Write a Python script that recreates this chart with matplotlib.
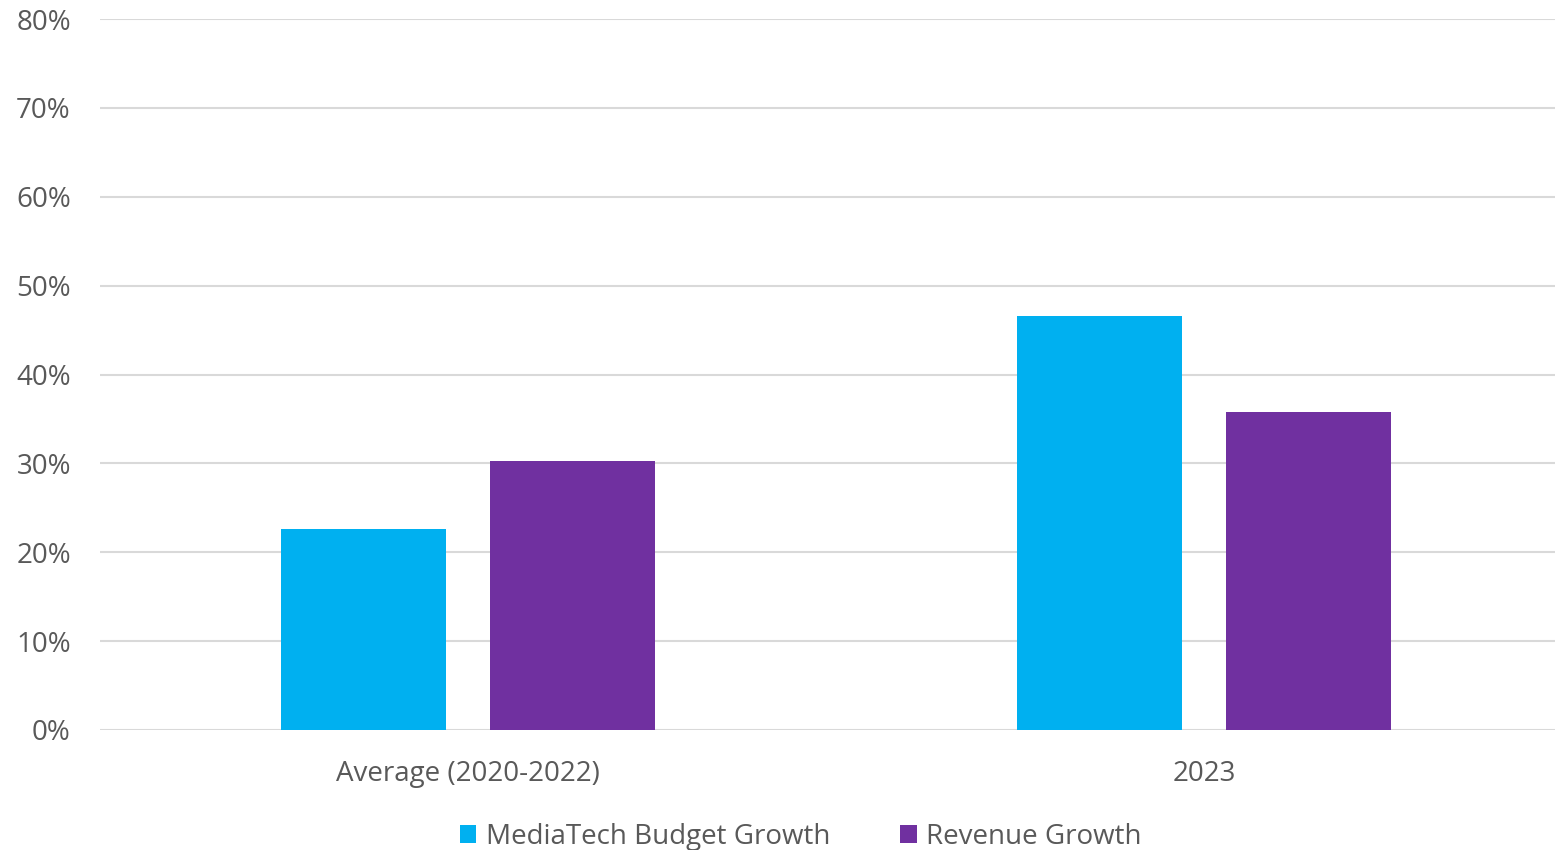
import matplotlib
matplotlib.use("Agg")
import matplotlib.pyplot as plt
import numpy as np
from matplotlib.ticker import PercentFormatter

categories = ["Average (2020-2022)", "2023"]
budget_growth = [22.6, 46.6]
revenue_growth = [30.3, 35.8]
series_names = ["MediaTech Budget Growth", "Revenue Growth"]

BLUE = "#00b0f0"
PURPLE = "#7030a0"
TEXT = "#595959"
GRID = "#d9d9d9"

plt.rcParams["font.family"] = ["Open Sans", "DejaVu Sans"]

fig = plt.figure(figsize=(15.55, 8.5), dpi=100)
# plot area runs a little past the right edge of the canvas
ax = fig.add_axes([0.0643, 0.1412, 0.9466, 0.8364])

x = np.arange(len(categories))
w = 0.224
off = 0.142
ax.bar(x - off, budget_growth, w, color=BLUE, label=series_names[0], zorder=3)
ax.bar(x + off, revenue_growth, w, color=PURPLE, label=series_names[1], zorder=3)

ax.set_xlim(-0.5, len(categories) - 0.5)
ax.set_ylim(0, 80)
ax.set_yticks(np.arange(0, 81, 10))
ax.yaxis.set_major_formatter(PercentFormatter(decimals=0))
ax.grid(axis="y", color=GRID, linewidth=1.5, zorder=0)
for s in ax.spines.values():
    s.set_visible(False)
ax.tick_params(axis="both", length=0, labelsize=20, colors=TEXT)
ax.tick_params(axis="y", pad=21)
ax.tick_params(axis="x", pad=21.5)
ax.set_xticks(x)
ax.set_xticklabels(categories)

fig.legend(loc="center", bbox_to_anchor=(0.515, 0.0155), ncol=2, frameon=False,
           fontsize=20, labelcolor=TEXT, handlelength=0.6, handleheight=0.6,
           handletextpad=0.35, columnspacing=2.5)

fig.savefig("out.png", dpi=100, facecolor="white")
